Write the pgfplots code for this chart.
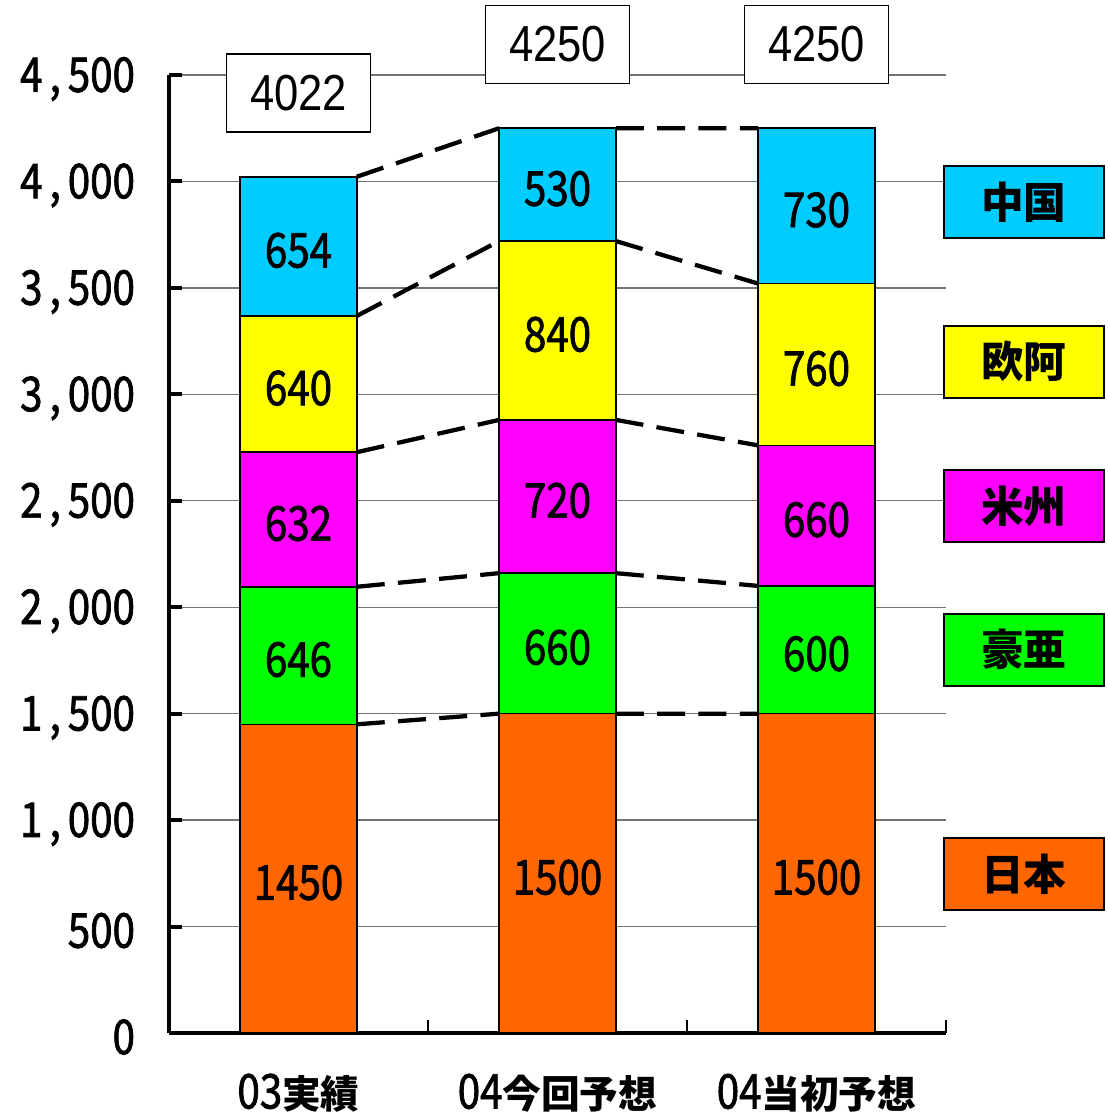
\documentclass[border=0pt]{standalone}
\usepackage{fontspec}
\usepackage{pgfplots}
\pgfplotsset{compat=1.18}
\setmainfont{Noto Sans CJK JP}[FakeStretch=0.84, FakeBold=1.5]
\newfontfamily\cjk{Noto Sans CJK JP}
\newfontfamily\arial{Liberation Sans}[FakeStretch=0.86]
\definecolor{jp}{HTML}{FF6600}
\definecolor{au}{HTML}{00FF00}
\definecolor{am}{HTML}{FF00FF}
\definecolor{eu}{HTML}{FFFF00}
\definecolor{cn}{HTML}{00CCFF}
\newcommand\numfont{\fontsize{36}{40}\selectfont}
\newcommand\kj[1]{{\cjk\bfseries\fontsize{29}{32}\selectfont #1}}

\begin{document}
\begin{tikzpicture}[x=0.75pt,y=0.75pt]
\useasboundingbox (0,0) rectangle (1107,1116);
\pgfplotsset{myax/.style={
  width=582.75pt, height=718.5pt, scale only axis,
  xmin=-0.5, xmax=2.5, ymin=0, ymax=4500,
  at={(126.75pt,62.25pt)}, anchor=south west}}

% bars
\begin{axis}[myax,
  ybar stacked, bar width=0.45,
  axis x line=bottom, axis y line=left,
  axis line style={-, line width=3pt},
  tick align=inside,
  xtick={0.5,1.5,2.5}, xticklabels={},
  x tick style={line width=2pt, black},
  major tick length=10pt,
  extra x ticks={0,1,2},
  extra x tick labels={{\numfont 03}\kj{実績},{\numfont 04}\kj{今回予想},{\numfont 04}\kj{当初予想}},
  extra x tick style={major tick length=0pt,
    tick label style={anchor=center, yshift=-45pt}},
  ytick={0,500,...,4500},
  y tick style={line width=3pt, black},
  yticklabel style={font=\numfont, xshift=-22pt, yshift=-3pt},
  /pgf/number format/.cd, 1000 sep={\hbox to 19pt{\hss,\hss}}, assume math mode=true,
  /pgfplots/.cd,
  ymajorgrids, grid style={black!55, line width=1pt},
]
\addplot[fill=jp, draw=black, line width=1.2pt] coordinates {(0,1450) (1,1500) (2,1500)};
\addplot[fill=au, draw=black, line width=1.2pt] coordinates {(0,646) (1,660) (2,600)};
\addplot[fill=am, draw=black, line width=1.2pt] coordinates {(0,632) (1,720) (2,660)};
\addplot[fill=eu, draw=black, line width=1.2pt] coordinates {(0,640) (1,840) (2,760)};
\addplot[fill=cn, draw=black, line width=1.2pt] coordinates {(0,654) (1,530) (2,730)};
\end{axis}

% connectors, labels, legend
\begin{axis}[myax, hide axis, clip=false, unbounded coords=jump]
\pgfplotsset{dl/.style={black, line width=3.2pt, dash pattern=on 21pt off 10pt, mark=none}}
\addplot[dl] coordinates {(0.225,1450) (0.775,1500) (nan,nan) (1.225,1500) (1.775,1500)};
\addplot[dl] coordinates {(0.225,2096) (0.775,2160) (nan,nan) (1.225,2160) (1.775,2100)};
\addplot[dl] coordinates {(0.225,2728) (0.775,2880) (nan,nan) (1.225,2880) (1.775,2760)};
\addplot[dl] coordinates {(0.225,3368) (0.775,3720) (nan,nan) (1.225,3720) (1.775,3520)};
\addplot[dl] coordinates {(0.225,4022) (0.775,4250) (nan,nan) (1.225,4250) (1.775,4250)};

\addplot[draw=none, mark=none, nodes near coords, point meta=explicit symbolic,
  nodes near coords style={anchor=center, font=\numfont, yshift=-3pt}]
  coordinates {
  (0,725)[1450] (0,1773)[646] (0,2412)[632] (0,3048)[640] (0,3695)[654]
  (1,750)[1500] (1,1830)[660] (1,2520)[720] (1,3300)[840] (1,3985)[530]
  (2,750)[1500] (2,1800)[600] (2,2430)[660] (2,3140)[760] (2,3885)[730]};

\addplot[draw=none, mark=none, nodes near coords, point meta=explicit symbolic,
  nodes near coords style={anchor=center, draw=black, line width=1pt, fill=white,
    minimum width=108pt, minimum height=58.5pt,
    font=\arial\fontsize{38}{40}\selectfont}]
  coordinates {(0,4415)[4022] (1,4643)[4250] (2,4643)[4250]};

\tikzset{lg/.style={draw=black, line width=1.5pt, minimum width=120pt, minimum height=54pt,
  font=\cjk\bfseries\fontsize{32}{34}\selectfont}}
\node[lg, fill=cn] at (axis cs:2.8,3903) {中国};
\node[lg, fill=eu] at (axis cs:2.8,3153) {欧阿};
\node[lg, fill=am] at (axis cs:2.8,2474) {米州};
\node[lg, fill=au] at (axis cs:2.8,1800) {豪亜};
\node[lg, fill=jp] at (axis cs:2.8,745) {日本};
\end{axis}
\end{tikzpicture}
\end{document}
